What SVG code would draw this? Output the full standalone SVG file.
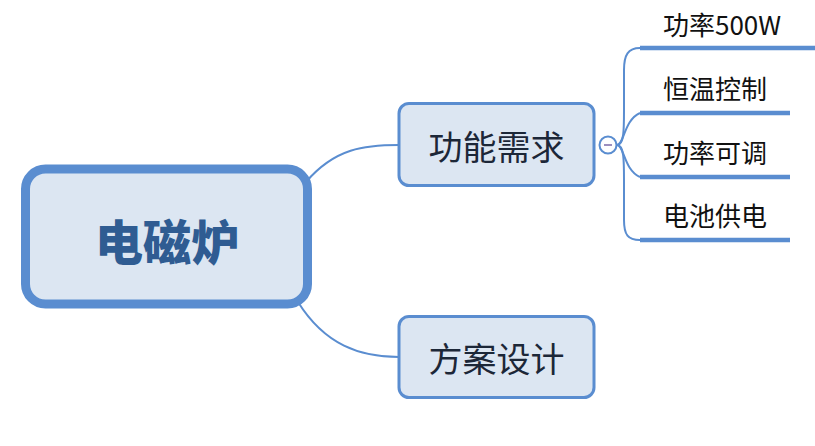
<svg xmlns="http://www.w3.org/2000/svg" width="815" height="446" viewBox="0 0 815 446">
<style>
.conn{fill:none;stroke:#5a8dd0;stroke-width:2}
.ul{fill:none;stroke:#5a8dd0;stroke-width:4.5}
.box{fill:#dce6f2;stroke:#5a8dd0}
.t{font-family:"Noto Sans CJK SC","Liberation Sans",sans-serif;fill:#1c2738}
.s{font-family:"Noto Sans CJK SC","Liberation Sans",sans-serif;fill:#111;font-size:26px}
</style>
<rect width="815" height="446" fill="#fff"/>
<g id="connectors">
<path class="conn" d="M306,182 C335,148 365,145 399,145"/>
<path class="conn" d="M298,302 C325,345 360,357 399,357"/>
<path class="conn" d="M617,145 C624,145 624,130 624,110 L624,70 C624,55 628,48 640,48"/>
<path class="conn" d="M617,145 C624,145 624,120 640,113"/>
<path class="conn" d="M617,145 C624,145 624,170 640,177"/>
<path class="conn" d="M617,145 C624,145 624,160 624,180 L624,220 C624,235 628,240 640,240"/>
<path class="ul" d="M640,48 H815"/>
<path class="ul" d="M640,113 H790"/>
<path class="ul" d="M640,177 H790"/>
<path class="ul" d="M640,240 H790"/>
</g>
<g id="root">
<rect class="box" x="25.5" y="169" width="282" height="135" rx="20" stroke-width="9"/>
<text class="t" x="167" y="260" font-size="48" font-weight="900" text-anchor="middle" style="fill:#2f5c92">电磁炉</text>
</g>
<g id="gongneng">
<rect class="box" x="399" y="103.5" width="195" height="82" rx="10" stroke-width="3"/>
<text class="t" x="496.5" y="160" font-size="34" text-anchor="middle">功能需求</text>
</g>
<g id="collapse">
<circle cx="608" cy="145" r="8.5" fill="#fff" stroke="#5a8dd0" stroke-width="2"/>
<line x1="604" y1="145" x2="612" y2="145" stroke="#7b6aa8" stroke-width="1.5"/>
</g>
<g id="fangan">
<rect class="box" x="399" y="316.5" width="195" height="81" rx="10" stroke-width="3"/>
<text class="t" x="496.5" y="372" font-size="34" text-anchor="middle">方案设计</text>
</g>
<g id="sub1"><text class="s" x="663" y="35">功率500W</text></g>
<g id="sub2"><text class="s" x="663" y="99">恒温控制</text></g>
<g id="sub3"><text class="s" x="663" y="163">功率可调</text></g>
<g id="sub4"><text class="s" x="663" y="226">电池供电</text></g>
</svg>
